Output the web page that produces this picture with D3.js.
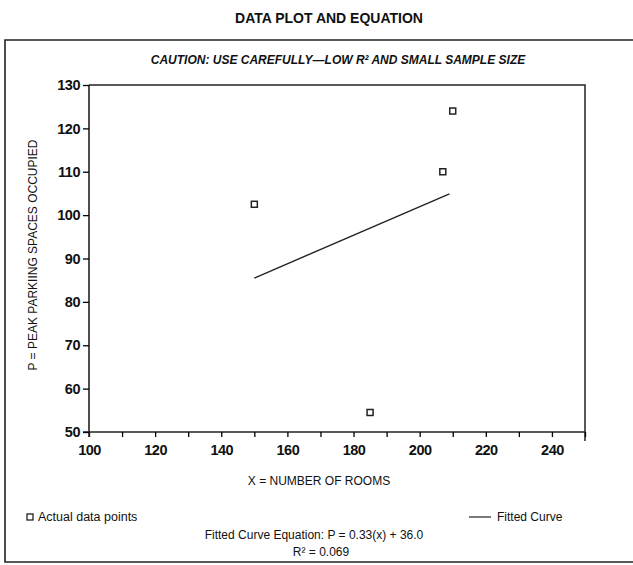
<!DOCTYPE html>
<html>
<head>
<meta charset="utf-8">
<script src="https://cdn.jsdelivr.net/npm/d3@7"></script>
<style>
  html, body { margin: 0; padding: 0; background: #fff; }
  svg { display: block; }
  text { font-family: "Liberation Sans", Arial, sans-serif; fill: #111; }
  .tick text { font-size: 14.5px; font-weight: bold; letter-spacing: -0.5px; }
</style>
</head>
<body>
<svg id="chart" width="633" height="565"></svg>
<script>
// ── Data ────────────────────────────────────────────────────
const rooms    = [150, 185, 207, 210];        // X = number of rooms
const spaces   = [102.5, 54.5, 110, 124];     // P = peak parking spaces occupied
const fitX     = [150, 209];                  // fitted curve end points
const fitY     = [85.5, 104.9];
const xTicks   = [100, 110, 120, 130, 140, 150, 160, 170, 180, 190, 200, 210, 220, 230, 240, 250];
const xLabels  = [100, 120, 140, 160, 180, 200, 220, 240];
const yTicks   = [50, 60, 70, 80, 90, 100, 110, 120, 130];

const svg = d3.select('#chart');

// plot box
const L = 89, R = 585, T = 85, B = 432;

const x = d3.scaleLinear().domain([100, 250]).range([L, R]);
const y = d3.scaleLinear().domain([50, 130]).range([B, T]);

// outer frame (runs off the right edge like the scan)
svg.append('path')
  .attr('d', 'M640,40 H5 V562 H640')
  .attr('fill', 'none').attr('stroke', '#222').attr('stroke-width', 1.6);

// title + caution line
svg.append('text')
  .attr('x', 329).attr('y', 23)
  .attr('text-anchor', 'middle')
  .style('font-size', '14px').style('font-weight', 'bold')
  .text('DATA  PLOT AND EQUATION');

svg.append('text')
  .attr('x', 338).attr('y', 64)
  .attr('text-anchor', 'middle')
  .style('font-size', '12px').style('font-weight', 'bold').style('font-style', 'italic')
  .text('CAUTION: USE CAREFULLY—LOW R² AND SMALL SAMPLE SIZE');

// top + right border of the plot
svg.append('path')
  .attr('d', `M${L},${T} H${R} V${B + 9}`)
  .attr('fill', 'none').attr('stroke', '#222').attr('stroke-width', 1.5);

// axes
const xAxis = d3.axisBottom(x)
  .tickValues(xTicks)
  .tickSize(5)
  .tickFormat(d => xLabels.includes(d) ? d : '');
const gx = svg.append('g').attr('transform', `translate(0,${B})`).call(xAxis);
gx.select('.domain').attr('d', `M${L - 6},0H${R}`);
gx.selectAll('.tick line').attr('stroke-width', 1.3);
gx.selectAll('.tick text').attr('dy', '1.05em');

const yAxis = d3.axisLeft(y).tickValues(yTicks).tickSize(6);
const gy = svg.append('g').attr('transform', `translate(${L},0)`).call(yAxis);
gy.select('.domain').attr('d', `M0,${T}V${B + 5}`);
gy.selectAll('.tick line').attr('stroke-width', 1.3);
gy.selectAll('.tick text').attr('x', -9);

svg.selectAll('.domain').attr('stroke', '#222').attr('stroke-width', 1.6);

// axis titles
svg.append('text')
  .attr('transform', 'translate(37,255) rotate(-90)')
  .attr('text-anchor', 'middle')
  .style('font-size', '12px')
  .text('P = PEAK PARKIING SPACES OCCUPIED');

svg.append('text')
  .attr('x', 319).attr('y', 485)
  .attr('text-anchor', 'middle')
  .style('font-size', '12px')
  .text('X = NUMBER OF ROOMS');

// fitted curve
svg.append('line')
  .attr('x1', x(fitX[0])).attr('y1', y(fitY[0]))
  .attr('x2', x(fitX[1])).attr('y2', y(fitY[1]))
  .attr('stroke', '#222').attr('stroke-width', 1.4);

// data points
const pts = rooms.map((r, i) => ({ r, p: spaces[i] }));
svg.selectAll('.pt')
  .data(pts).join('rect')
  .attr('class', 'pt')
  .attr('x', d => x(d.r) - 3).attr('y', d => y(d.p) - 3)
  .attr('width', 6).attr('height', 6)
  .attr('fill', '#fff').attr('stroke', '#222').attr('stroke-width', 1.5);

// legend
svg.append('rect')
  .attr('x', 27).attr('y', 514).attr('width', 6).attr('height', 6)
  .attr('fill', '#fff').attr('stroke', '#222').attr('stroke-width', 1.3);
svg.append('text')
  .attr('x', 38).attr('y', 521)
  .style('font-size', '12.5px')
  .text('Actual data points');

svg.append('line')
  .attr('x1', 469).attr('x2', 491).attr('y1', 517).attr('y2', 517)
  .attr('stroke', '#222').attr('stroke-width', 1.2);
svg.append('text')
  .attr('x', 497).attr('y', 521)
  .style('font-size', '12px')
  .text('Fitted Curve');

svg.append('text')
  .attr('x', 314).attr('y', 539)
  .attr('text-anchor', 'middle')
  .style('font-size', '12px')
  .text('Fitted Curve Equation: P = 0.33(x) + 36.0');

svg.append('text')
  .attr('x', 321).attr('y', 556)
  .attr('text-anchor', 'middle')
  .style('font-size', '12px')
  .text('R² = 0.069');
</script>
</body>
</html>
